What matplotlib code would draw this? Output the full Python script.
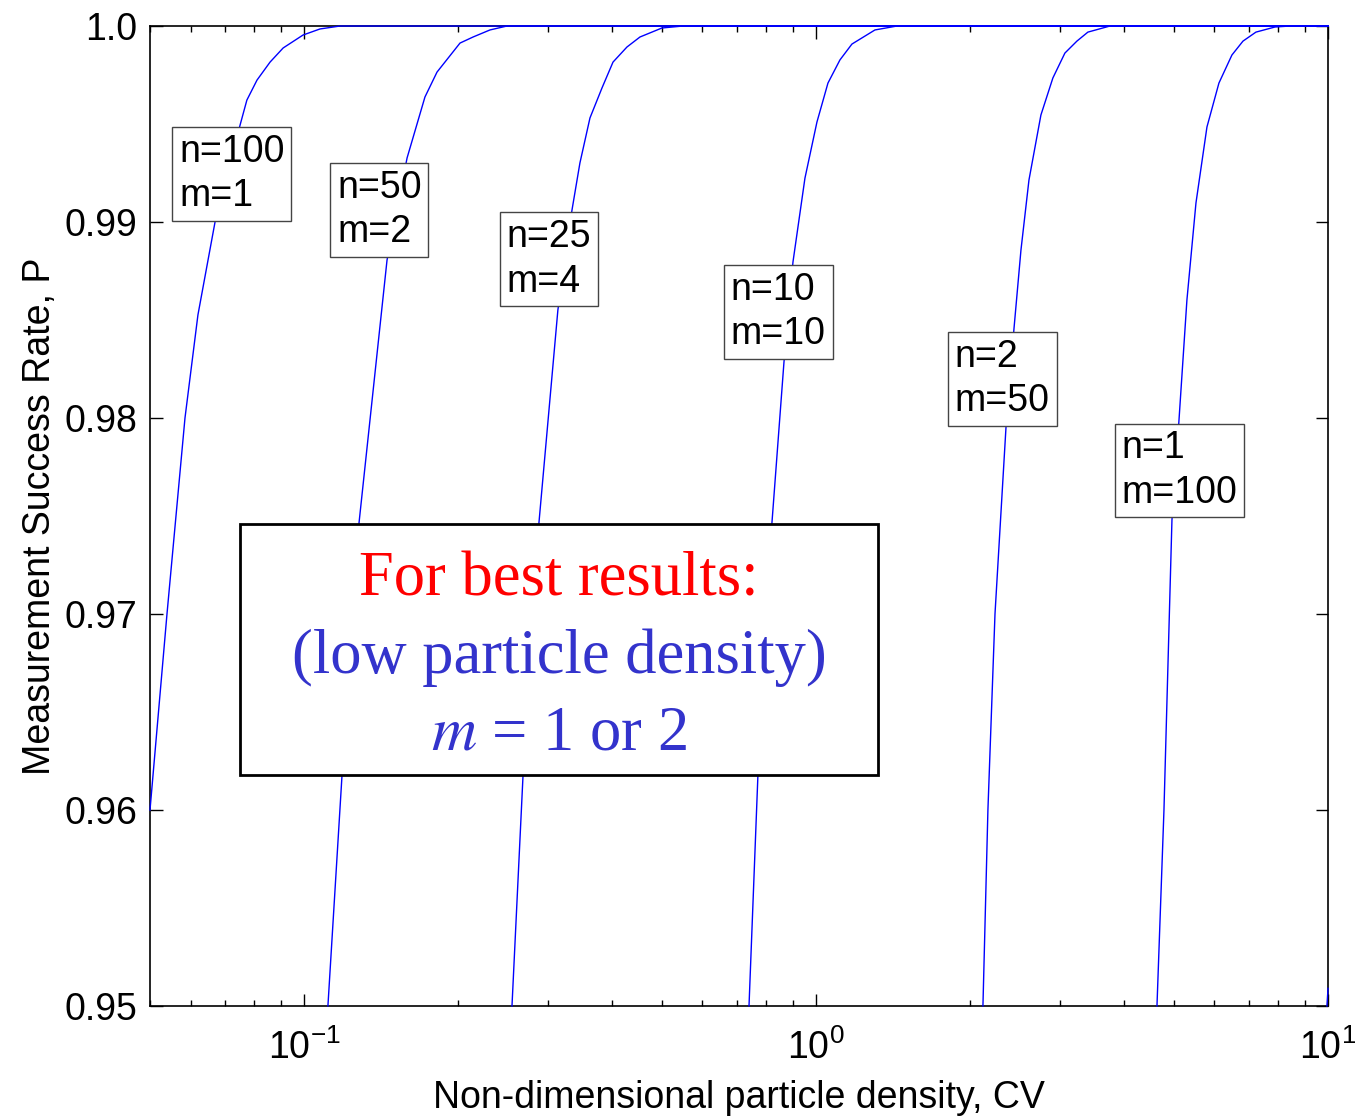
"""Measurement success rate vs non-dimensional particle density"""

import matplotlib
matplotlib.use("Agg")
from matplotlib import pyplot as plt
from matplotlib import font_manager
from matplotlib.patches import Rectangle
from matplotlib.ticker import FixedLocator, LogLocator, NullFormatter

# curves: CV (x) and success rate P (y)
cv_n100 = [0.0500, 0.05397, 0.05852, 0.06203, 0.06699, 0.07498, 0.0773, 0.0809,
           0.0858, 0.0910, 0.0995, 0.1074, 0.1175, 10.0]
p_n100 = [0.960, 0.970, 0.980, 0.98526, 0.990, 0.99495, 0.99622, 0.99724,
          0.99816, 0.99888, 0.99954, 0.99985, 1.0, 1.0]

cv_n50 = [0.1113, 0.1186, 0.1246, 0.1280, 0.1452, 0.1589, 0.1722, 0.1818,
          0.2016, 0.2138, 0.2307, 0.2490, 10.0]
p_n50 = [0.950, 0.96179, 0.970, 0.97464, 0.98806, 0.99327, 0.99638, 0.99765,
         0.99913, 0.99944, 0.99980, 1.0, 1.0]

cv_n25 = [0.2547, 0.2677, 0.2875, 0.3131, 0.3336, 0.3457, 0.3617, 0.3818,
          0.4012, 0.4272, 0.4529, 0.5000, 0.5496, 10.0]
p_n25 = [0.950, 0.96179, 0.97464, 0.98551, 0.99061, 0.99301, 0.99531, 0.99684,
         0.99816, 0.99893, 0.99944, 0.99990, 1.0, 1.0]

cv_n10 = [0.7396, 0.7699, 0.8199, 0.8656, 0.9013, 0.9512, 1.0039, 1.0549,
          1.1133, 1.1750, 1.3032, 1.4388, 10.0]
p_n10 = [0.950, 0.96179, 0.97464, 0.98286, 0.98796, 0.99224, 0.99510, 0.99709,
         0.99827, 0.99908, 0.99980, 1.0, 1.0]

cv_n2 = [2.118, 2.166, 2.236, 2.349, 2.435, 2.513, 2.605, 2.749, 2.901, 3.062,
         3.232, 3.396, 3.750, 10.0]
p_n2 = [0.950, 0.960, 0.970, 0.97949, 0.98454, 0.98857, 0.99214, 0.99546,
        0.99735, 0.99862, 0.99923, 0.99969, 1.0, 1.0]

cv_n1 = [4.633, 4.781, 4.956, 5.114, 5.301, 5.521, 5.801, 6.122, 6.490, 6.821,
         7.231, 7.877, 8.426, 10.0]
p_n1 = [0.950, 0.960, 0.9748, 0.97985, 0.98602, 0.99097, 0.99485, 0.99709,
        0.99852, 0.99923, 0.99969, 0.99995, 1.0, 1.0]

# tail of the next curve just entering at the right edge
cv_edge = [9.95, 10.0]
p_edge = [0.950, 0.9509]

curves = [(cv_n100, p_n100), (cv_n50, p_n50), (cv_n25, p_n25), (cv_n10, p_n10),
          (cv_n2, p_n2), (cv_n1, p_n1), (cv_edge, p_edge)]

labels = ["n=100\nm=1", "n=50\nm=2", "n=25\nm=4", "n=10\nm=10",
          "n=2\nm=50", "n=1\nm=100"]
label_pos = [(0.0570, 0.99245), (0.1160, 0.99061), (0.2490, 0.98809),
             (0.682, 0.98541), (1.866, 0.98199), (3.955, 0.97732)]

y_ticks = [0.95, 0.96, 0.97, 0.98, 0.99, 1.0]
y_ticklabels = ["0.95", "0.96", "0.97", "0.98", "0.99", "1.0"]
x_ticks = [0.1, 1.0, 10.0]
x_ticklabels = [r"$\mathdefault{10^{-1}}$", r"$\mathdefault{10^{0}}$",
                r"$\mathdefault{10^{1}}$"]

installed = {f.name for f in font_manager.fontManager.ttflist}
if "Liberation Sans Narrow" in installed:
    sans, fs, fs_box = "Liberation Sans Narrow", 32, 30
else:
    sans, fs, fs_box = "Liberation Sans", 27, 27
plt.rcParams["font.family"] = [sans, "DejaVu Sans"]
plt.rcParams["mathtext.default"] = "regular"

fig = plt.figure(figsize=(13.55, 11.17), dpi=100)
ax = fig.add_axes([0.1107, 0.0994, 0.8694, 0.8773])

for cv, p in curves:
    ax.plot(cv, p, color="#0000FF", lw=1.0, zorder=3, clip_on=False)

ax.set_xscale("log")
ax.set_xlim(0.05, 10)
ax.set_ylim(0.95, 1.0)

ax.xaxis.set_major_locator(FixedLocator(x_ticks))
ax.set_xticklabels(x_ticklabels)
ax.xaxis.set_minor_locator(LogLocator(base=10, subs=range(2, 10)))
ax.xaxis.set_minor_formatter(NullFormatter())
ax.set_yticks(y_ticks)
ax.set_yticklabels(y_ticklabels)

ax.tick_params(which="both", direction="in", top=True, right=True,
               labelsize=fs, width=1.0)
ax.tick_params(which="major", length=9)
ax.tick_params(which="minor", length=4.5)
ax.tick_params(axis="x", which="major", pad=17)
ax.tick_params(axis="y", which="major", pad=9)
for s in ax.spines.values():
    s.set_linewidth(1.2)

ax.set_xlabel("Non-dimensional particle density, CV", fontsize=fs, labelpad=9)
ax.set_ylabel("Measurement Success Rate, P", fontsize=fs, labelpad=5)

for txt, (x, y) in zip(labels, label_pos):
    ax.text(x, y, txt, fontsize=fs_box, ha="left", va="center", linespacing=1.3,
            zorder=4, bbox=dict(boxstyle="square,pad=0.18", fc="white",
                                ec="#444444", lw=1.0))

# note box
ax.add_patch(Rectangle((0.0764, 0.2357), 0.5416, 0.2561, transform=ax.transAxes,
                       fc="white", ec="black", lw=2.0, zorder=5))
serif = ["Liberation Serif", "DejaVu Serif"]
ax.text(0.3472, 0.4184, "For best results:", transform=ax.transAxes, ha="center",
        va="baseline", fontsize=45, color="#FF0000", family=serif, zorder=6)
ax.text(0.3472, 0.3394, "(low particle density)", transform=ax.transAxes,
        ha="center", va="baseline", fontsize=45, color="#3333CC", family=serif,
        zorder=6)
ax.text(0.3472, 0.2618, r"$\mathit{m}$ = 1 or 2", transform=ax.transAxes,
        ha="center", va="baseline", fontsize=45, color="#3333CC", family=serif,
        zorder=6, math_fontfamily="stix")

fig.savefig("out.png", dpi=100)
